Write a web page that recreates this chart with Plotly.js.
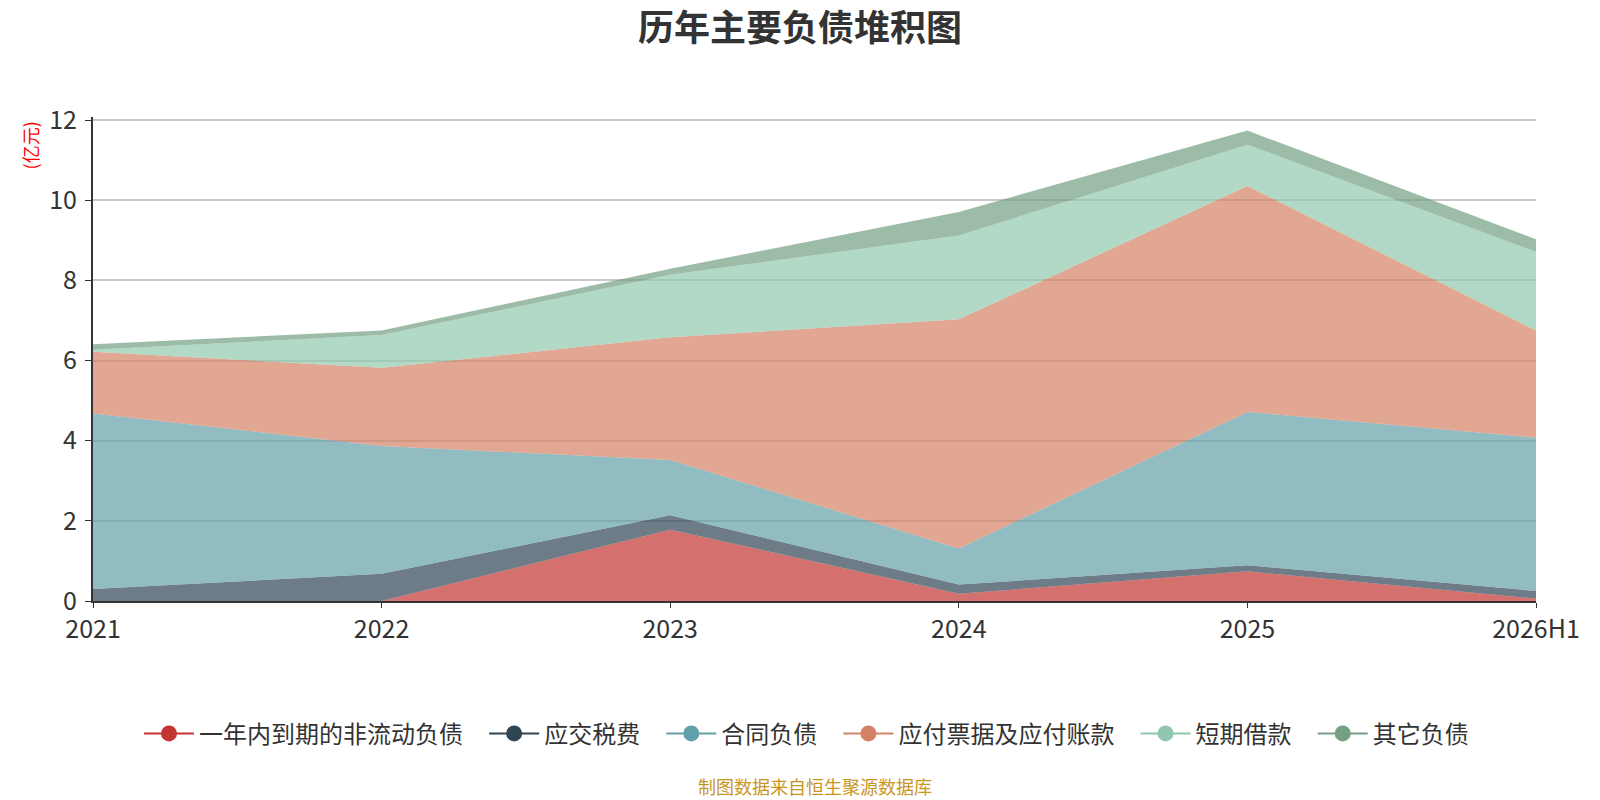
<!DOCTYPE html>
<html>
<head>
<meta charset="utf-8">
<script src="https://cdn.plot.ly/plotly-3.0.1.min.js"></script>
<style>
  html, body { margin: 0; padding: 0; background: #fff; }
  #plot { width: 1600px; height: 800px; }
</style>
</head>
<body>
<div id="plot"></div>
<script>
const years = ['2021', '2022', '2023', '2024', '2025', '2026H1'];

// 亿元, stacked bottom to top
const currentNonCurrent = [0, 0, 1.78, 0.18, 0.74, 0.06];   // 一年内到期的非流动负债
const taxPayable        = [0.30, 0.68, 0.36, 0.23, 0.15, 0.19]; // 应交税费
const contractLiab      = [4.38, 3.19, 1.38, 0.90, 3.83, 3.83]; // 合同负债
const notesPayable      = [1.54, 1.95, 3.06, 5.72, 5.64, 2.67]; // 应付票据及应付账款
const shortLoans        = [0.05, 0.82, 1.56, 2.09, 1.03, 1.96]; // 短期借款
const otherLiab         = [0.14, 0.11, 0.15, 0.59, 0.35, 0.32]; // 其它负债

const seriesNames = ['一年内到期的非流动负债', '应交税费', '合同负债', '应付票据及应付账款', '短期借款', '其它负债'];
const seriesValues = [currentNonCurrent, taxPayable, contractLiab, notesPayable, shortLoans, otherLiab];
const colors = ['#c23531', '#2f4554', '#61a0a8', '#d48265', '#91c7ae', '#749f83'];

function hexA(hex, a) {
  const n = parseInt(hex.slice(1), 16);
  return `rgba(${n >> 16},${(n >> 8) & 255},${n & 255},${a})`;
}

const FONT = '"Noto Sans CJK SC", "Microsoft YaHei", sans-serif';
const PAD = '\u00a0\u00a0\u00a0'; // a little more room between legend items

const data = [];
seriesNames.forEach((name, i) => {
  data.push({
    type: 'scatter', mode: 'lines', name,
    x: years, y: seriesValues[i],
    stackgroup: 'one',
    line: { width: 0, color: colors[i] },
    fillcolor: hexA(colors[i], 0.7),
    showlegend: false, hoverinfo: 'x+y+name'
  });
});
// legend-only entries (line + dot like the original)
seriesNames.forEach((name, i) => {
  data.push({
    type: 'scatter', mode: 'lines+markers', name: name + PAD,
    x: [null], y: [null],
    line: { color: colors[i], width: 2 },
    marker: { color: colors[i], size: 22 },
    showlegend: true, hoverinfo: 'skip'
  });
});

const layout = {
  width: 1600, height: 800,
  paper_bgcolor: '#fff', plot_bgcolor: '#fff',
  font: { family: FONT, color: '#333', size: 24 },
  title: {
    text: '<b>历年主要负债堆积图</b>',
    font: { family: FONT, size: 36, color: '#333' },
    x: 0.5, xanchor: 'center', yref: 'container', y: 0.964, yanchor: 'middle'
  },
  margin: { l: 93, r: 64, t: 117, b: 199 },
  showlegend: true,
  legend: {
    orientation: 'h', x: 0.5, xanchor: 'center', y: -0.228, yanchor: 'top',
    font: { family: FONT, size: 24, color: '#333' },
    itemwidth: 50, traceorder: 'normal'
  },
  xaxis: {
    type: 'category', range: [0, years.length - 1],
    showgrid: false, zeroline: false,
    showline: true, linecolor: '#333', linewidth: 2,
    ticks: 'outside', ticklen: 5, tickcolor: '#333',
    tickfont: { family: FONT, size: 25, color: '#333' }
  },
  yaxis: {
    range: [0, 12.08], tickvals: [0, 2, 4, 6, 8, 10, 12],
    showgrid: true, gridcolor: '#c8c8c8', gridwidth: 1.5, zeroline: false,
    showline: true, linecolor: '#333', linewidth: 2,
    ticks: 'outside', ticklen: 6, tickcolor: '#333', ticklabelstandoff: 3,
    tickfont: { family: FONT, size: 25, color: '#333' }
  },
  annotations: [
    {
      text: '(亿元)', textangle: -90,
      xref: 'paper', yref: 'paper', x: -0.044, y: 0.994,
      xanchor: 'center', yanchor: 'top', showarrow: false,
      font: { family: FONT, size: 18, color: '#ff0000' }
    },
    {
      text: '制图数据来自恒生聚源数据库',
      xref: 'paper', yref: 'paper', x: 0.5, y: -0.383,
      xanchor: 'center', yanchor: 'middle', showarrow: false,
      font: { family: FONT, size: 18, color: '#c8961e' }
    }
  ]
};

Plotly.newPlot('plot', data, layout, { displayModeBar: false, responsive: false });
</script>
</body>
</html>
